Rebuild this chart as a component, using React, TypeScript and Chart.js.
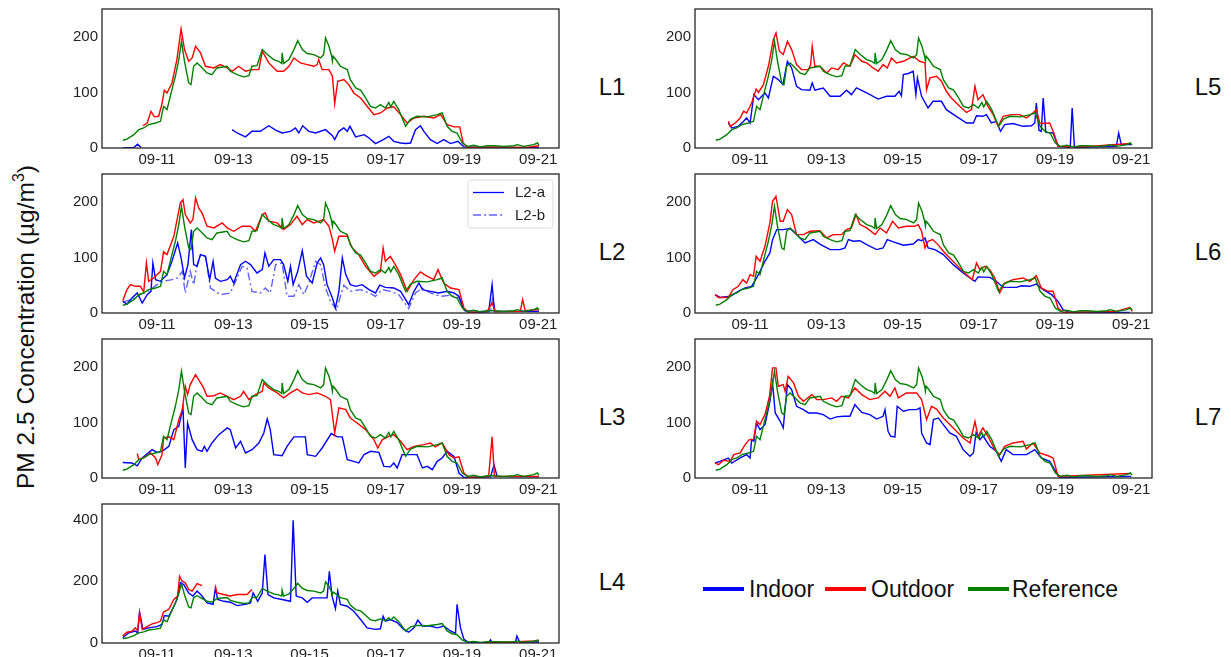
import React, { useEffect, useRef } from "react";
import { Chart, registerables } from "chart.js";
Chart.register(...registerables);

type Pt = [number, number | null];

const FONT = "'Liberation Sans', Arial, Helvetica, sans-serif";
const X_TICKS = [11, 13, 15, 17, 19, 21];
const X_TICK_LABELS = ["09-11", "09-13", "09-15", "09-17", "09-19", "09-21"];
const Y_TICKS_STD = [0, 100, 200];
const Y_TICKS_L4 = [0, 200, 400];
const PANEL_LABELS = ["L1", "L2", "L3", "L4", "L5", "L6", "L7"];
const LEGEND_LABELS = ["Indoor", "Outdoor", "Reference"];
const L2_LEGEND = ["L2-a", "L2-b"];

const REFERENCE: Pt[] = [
  [10.10,14],[10.21,16],[10.30,20],[10.39,24],[10.52,33],[10.65,36],[10.78,42],[10.96,45],[11.09,48],[11.17,75],[11.26,69],
  [11.39,105],[11.48,129],[11.57,159],[11.64,192],[11.72,156],[11.83,117],[11.89,114],[11.96,147],[12.05,153],[12.14,147],
  [12.31,135],[12.44,132],[12.57,144],[12.84,147],[12.92,138],[13.10,132],[13.27,128],[13.41,130],[13.49,147],[13.62,148],
  [13.76,177],[13.89,168],[14.06,159],[14.19,156],[14.27,152],[14.28,171],[14.32,152],[14.46,159],[14.59,177],[14.69,193],
  [14.81,177],[14.94,170],[15.11,168],[15.29,162],[15.37,168],[15.42,198],[15.51,183],[15.58,165],[15.60,156],[15.62,165],
  [15.68,160],[15.81,147],[15.99,141],[16.07,123],[16.21,108],[16.34,104],[16.47,90],[16.60,75],[16.73,72],[16.86,78],
  [16.99,72],[17.08,82],[17.13,74],[17.21,84],[17.34,69],[17.52,39],[17.65,52],[17.82,57],[18.09,56],[18.35,60],[18.48,63],
  [18.61,39],[18.74,30],[18.87,27],[19.01,9],[19.14,3],[19.31,5],[19.49,2],[19.66,4],[19.84,4],[20.10,3],[20.36,4],[20.45,6],
  [20.62,3],[20.88,6],[20.98,9],[21.02,5]
];

const L1_OUTDOOR: Pt[] = [
  [10.63,40],[10.74,45],[10.84,66],[10.93,56],[11.04,57],[11.13,80],[11.19,104],[11.26,99],[11.39,117],[11.52,159],[11.63,214],
  [11.72,177],[11.83,156],[11.92,162],[12.01,183],[12.14,171],[12.27,147],[12.49,144],[12.66,150],[12.84,144],[12.97,138],
  [13.14,147],[13.32,138],[13.49,141],[13.67,141],[13.76,174],[13.93,153],[14.15,138],[14.32,138],[14.46,147],[14.59,162],
  [14.76,153],[14.94,150],[15.11,147],[15.20,150],[15.24,159],[15.33,141],[15.51,141],[15.60,129],[15.66,80],[15.74,120],
  [15.90,123],[16.03,114],[16.16,99],[16.34,90],[16.51,75],[16.69,60],[16.86,63],[17.04,72],[17.21,74],[17.39,60],[17.56,45],
  [17.74,54],[18.00,57],[18.26,54],[18.44,60],[18.61,42],[18.79,38],[18.94,38],[19.03,9],[19.14,1],[19.84,2],[20.71,1],[21.02,4]
];
const L1_INDOOR: Pt[] = [
  [10.10,0],[10.39,1],[10.49,7],[10.58,1],[10.60,null],[12.97,33],[13.10,27],[13.32,20],[13.49,30],[13.71,30],[13.93,40],
  [14.11,32],[14.28,27],[14.50,30],[14.63,36],[14.72,27],[14.82,40],[14.98,30],[15.16,27],[15.42,33],[15.60,22],[15.66,15],
  [15.77,30],[15.90,36],[15.99,30],[16.06,39],[16.21,20],[16.43,24],[16.56,18],[16.73,8],[16.91,14],[17.08,21],[17.21,12],
  [17.39,9],[17.52,8],[17.65,9],[17.78,33],[17.91,40],[18.00,30],[18.17,15],[18.35,8],[18.52,15],[18.70,8],[18.89,12],
  [19.05,2],[19.84,0],[21.02,1]
];

const L2_OUTDOOR: Pt[] = [
  [10.10,22],[10.21,42],[10.30,51],[10.43,48],[10.56,48],[10.65,38],[10.72,90],[10.78,57],[10.91,63],[11.09,75],[11.17,110],
  [11.26,105],[11.44,138],[11.61,198],[11.68,204],[11.74,177],[11.87,162],[11.94,168],[12.01,207],[12.09,189],[12.18,180],
  [12.31,156],[12.49,153],[12.71,162],[12.84,153],[13.01,147],[13.23,156],[13.45,156],[13.58,147],[13.76,177],[13.84,180],
  [13.93,165],[14.15,162],[14.32,150],[14.50,159],[14.67,174],[14.81,159],[14.94,168],[15.11,162],[15.37,168],[15.51,156],
  [15.60,132],[15.66,111],[15.77,138],[15.99,138],[16.12,117],[16.29,105],[16.47,84],[16.69,66],[16.86,75],[16.93,117],
  [16.99,93],[17.12,102],[17.25,87],[17.39,69],[17.56,39],[17.74,60],[17.91,74],[18.09,66],[18.26,60],[18.37,78],[18.52,54],
  [18.70,45],[18.92,42],[19.05,9],[19.18,1],[19.66,3],[19.79,18],[19.87,2],[20.53,3],[20.59,24],[20.66,4],[21.02,6]
];
const L2A_INDOOR: Pt[] = [
  [10.10,21],[10.21,16],[10.34,27],[10.48,36],[10.61,18],[10.74,33],[10.84,39],[10.89,90],[10.96,60],[11.09,57],[11.26,69],
  [11.39,93],[11.54,126],[11.63,99],[11.72,63],[11.81,87],[11.90,150],[11.96,87],[12.05,84],[12.14,105],[12.27,102],
  [12.38,60],[12.47,93],[12.53,63],[12.66,57],[12.84,60],[12.92,66],[13.01,54],[13.19,87],[13.32,93],[13.45,87],[13.62,72],
  [13.76,78],[13.83,108],[13.93,84],[14.06,96],[14.24,96],[14.32,87],[14.43,57],[14.50,84],[14.57,51],[14.69,75],[14.81,112],
  [14.92,66],[15.07,54],[15.20,90],[15.29,99],[15.37,87],[15.46,51],[15.60,27],[15.68,9],[15.77,39],[15.86,99],[15.95,69],
  [16.07,51],[16.21,48],[16.38,51],[16.56,42],[16.73,36],[16.84,50],[16.99,46],[17.21,45],[17.39,39],[17.60,15],[17.74,39],
  [17.87,54],[17.96,42],[18.17,39],[18.39,36],[18.61,39],[18.79,36],[18.92,30],[19.05,6],[19.18,1],[19.70,2],[19.79,51],
  [19.85,3],[21.02,3]
];
const L2B_INDOOR: Pt[] = [
  [10.10,20],[10.34,24],[10.56,33],[10.78,40],[11.00,51],[11.17,57],[11.39,60],[11.54,63],[11.66,75],[11.74,36],[11.87,75],
  [11.96,51],[12.05,87],[12.14,105],[12.27,102],[12.40,45],[12.66,33],[12.92,36],[13.10,63],[13.23,84],[13.36,81],[13.49,39],
  [13.71,36],[13.84,45],[13.97,36],[14.11,87],[14.28,90],[14.41,30],[14.59,30],[14.72,51],[14.85,33],[14.98,54],[15.16,93],
  [15.29,87],[15.42,45],[15.55,21],[15.71,5],[15.81,30],[15.90,50],[16.07,39],[16.34,42],[16.56,36],[16.73,30],[16.91,42],
  [17.12,39],[17.34,33],[17.60,8],[17.78,36],[17.96,45],[18.17,36],[18.44,30],[18.70,32],[18.92,27],[19.07,4],[19.75,3],
  [19.81,30],[19.87,3],[21.02,3]
];

const L3_OUTDOOR: Pt[] = [
  [10.48,44],[10.52,33],[10.69,38],[10.83,45],[10.96,36],[11.02,24],[11.13,42],[11.17,72],[11.31,74],[11.44,69],[11.57,105],
  [11.66,123],[11.74,165],[11.80,150],[11.87,168],[12.01,186],[12.09,177],[12.22,162],[12.31,147],[12.49,148],[12.66,153],
  [12.84,147],[13.01,141],[13.19,147],[13.27,156],[13.41,141],[13.58,150],[13.76,156],[13.80,171],[13.93,162],[14.15,153],
  [14.32,144],[14.50,153],[14.67,160],[14.81,153],[14.98,150],[15.20,153],[15.42,147],[15.55,141],[15.66,81],[15.77,126],
  [15.95,123],[16.07,108],[16.25,99],[16.47,87],[16.69,69],[16.79,54],[16.91,69],[17.08,75],[17.21,78],[17.39,66],[17.56,51],
  [17.74,57],[18.00,60],[18.17,63],[18.30,56],[18.48,63],[18.66,42],[18.79,36],[18.92,38],[19.05,9],[19.18,1],[19.70,3],
  [19.79,74],[19.85,3],[21.02,3]
];
const L3_INDOOR: Pt[] = [
  [10.10,28],[10.34,27],[10.48,22],[10.61,36],[10.87,51],[11.00,46],[11.13,48],[11.31,57],[11.44,87],[11.57,93],[11.68,126],
  [11.74,18],[11.80,99],[11.92,69],[12.05,51],[12.18,48],[12.24,57],[12.31,48],[12.44,63],[12.62,78],[12.84,90],[12.92,87],
  [13.06,54],[13.19,66],[13.32,45],[13.49,51],[13.67,63],[13.80,81],[13.89,106],[13.97,87],[14.06,42],[14.28,40],[14.41,57],
  [14.59,74],[14.89,74],[14.94,42],[15.16,39],[15.33,54],[15.57,80],[15.73,74],[15.86,74],[15.99,33],[16.16,30],[16.29,27],
  [16.43,42],[16.60,48],[16.82,46],[16.95,21],[17.12,20],[17.21,27],[17.30,18],[17.43,42],[17.82,42],[17.96,18],[18.09,21],
  [18.22,15],[18.35,30],[18.48,36],[18.61,48],[18.79,39],[18.92,9],[19.05,1],[19.75,2],[19.84,24],[19.92,3],[21.02,2]
];

const L4_OUTDOOR: Pt[] = [
  [10.10,23],[10.21,35],[10.34,38],[10.43,49],[10.49,39],[10.54,98],[10.61,44],[10.74,53],[10.87,62],[11.00,66],[11.09,71],
  [11.17,100],[11.31,109],[11.44,141],[11.54,152],[11.59,216],[11.66,200],[11.74,195],[11.83,173],[11.92,168],[12.05,192],
  [12.18,186],[12.30,null],[12.53,184],[12.57,162],[12.75,157],[12.92,152],[13.10,157],[13.36,157],[13.49,173],[13.52,null],
  [19.60,2],[20.30,3],[20.90,7],[21.02,9]
];
const L4_INDOOR: Pt[] = [
  [10.10,17],[10.26,33],[10.43,39],[10.49,33],[10.54,100],[10.63,44],[10.78,49],[11.00,53],[11.13,60],[11.19,89],[11.31,87],
  [11.44,119],[11.52,141],[11.61,195],[11.70,189],[11.83,162],[11.94,152],[12.05,168],[12.18,152],[12.31,130],[12.47,125],
  [12.53,178],[12.59,141],[12.75,135],[12.92,132],[13.10,121],[13.32,125],[13.45,130],[13.52,162],[13.64,135],[13.76,162],
  [13.83,286],[13.91,157],[14.06,146],[14.28,141],[14.50,135],[14.57,397],[14.65,152],[14.81,146],[14.94,132],[15.07,146],
  [15.29,146],[15.46,146],[15.52,232],[15.59,152],[15.68,111],[15.74,168],[15.81,125],[15.99,119],[16.16,103],[16.34,76],
  [16.51,49],[16.73,44],[16.86,46],[16.93,87],[16.99,71],[17.12,76],[17.30,66],[17.47,44],[17.60,35],[17.74,49],[17.84,74],
  [17.96,55],[18.17,55],[18.35,49],[18.52,55],[18.70,39],[18.83,31],[18.87,125],[18.96,49],[19.05,12],[19.18,1],[19.70,1],
  [19.75,10],[19.79,1],[20.40,1],[20.44,23],[20.51,3],[21.02,3]
];

const L5_OUTDOOR: Pt[] = [
  [10.43,48],[10.48,39],[10.61,45],[10.74,54],[10.83,66],[10.91,63],[11.00,75],[11.04,81],[11.16,106],[11.22,100],[11.35,114],
  [11.48,147],[11.61,195],[11.68,207],[11.77,174],[11.87,168],[11.98,192],[12.09,177],[12.22,150],[12.35,141],[12.53,141],
  [12.59,150],[12.63,183],[12.70,147],[12.83,147],[13.01,135],[13.14,144],[13.31,141],[13.45,153],[13.62,147],[13.75,168],
  [13.93,156],[14.06,153],[14.23,144],[14.36,138],[14.49,150],[14.60,144],[14.71,162],[14.84,153],[15.02,156],[15.28,165],
  [15.45,156],[15.59,153],[15.63,105],[15.72,126],[15.89,129],[16.02,120],[16.15,102],[16.28,90],[16.50,75],[16.68,64],
  [16.81,69],[16.90,111],[16.98,87],[17.11,96],[17.24,75],[17.38,60],[17.51,39],[17.64,57],[17.86,60],[18.07,60],[18.25,54],
  [18.42,63],[18.51,69],[18.60,45],[18.73,44],[18.86,45],[18.97,27],[19.08,3],[19.73,2],[20.96,8]
];
const L5_INDOOR: Pt[] = [
  [10.43,45],[10.52,36],[10.69,39],[10.83,48],[10.91,54],[11.00,45],[11.10,96],[11.22,87],[11.39,99],[11.48,90],[11.61,129],
  [11.74,123],[11.86,114],[11.98,156],[12.09,144],[12.22,111],[12.35,105],[12.57,104],[12.63,117],[12.70,104],[12.92,108],
  [13.10,93],[13.36,93],[13.53,104],[13.66,96],[13.79,108],[14.06,99],[14.36,88],[14.58,93],[14.80,93],[14.91,102],[14.97,94],
  [15.02,132],[15.15,134],[15.28,138],[15.35,96],[15.39,126],[15.50,93],[15.67,72],[15.80,84],[16.02,84],[16.15,69],[16.41,57],
  [16.68,45],[16.86,45],[16.94,58],[17.11,57],[17.20,60],[17.33,45],[17.46,48],[17.57,30],[17.68,42],[17.90,44],[18.16,39],
  [18.38,40],[18.47,45],[18.51,81],[18.58,32],[18.64,30],[18.69,90],[18.76,28],[18.95,27],[19.08,3],[19.40,1],[19.45,72],
  [19.51,1],[20.61,3],[20.67,27],[20.74,6],[21.00,6]
];

const L6_OUTDOOR: Pt[] = [
  [10.08,33],[10.17,28],[10.43,28],[10.55,42],[10.69,48],[10.81,60],[10.91,54],[11.00,69],[11.09,66],[11.16,102],[11.26,93],
  [11.39,120],[11.52,162],[11.59,201],[11.68,210],[11.79,165],[11.87,165],[11.98,186],[12.09,177],[12.22,141],[12.40,141],
  [12.57,147],[12.83,148],[13.01,135],[13.18,141],[13.40,141],[13.53,150],[13.66,153],[13.78,177],[13.88,159],[14.06,153],
  [14.28,141],[14.41,153],[14.58,144],[14.74,165],[14.89,153],[15.10,156],[15.32,156],[15.41,159],[15.50,147],[15.59,117],
  [15.67,129],[15.79,132],[15.93,123],[16.07,111],[16.24,99],[16.41,87],[16.63,72],[16.83,60],[16.94,90],[17.03,78],
  [17.16,84],[17.29,78],[17.42,63],[17.55,36],[17.68,54],[17.90,60],[18.16,63],[18.34,57],[18.51,67],[18.64,45],[18.82,39],
  [18.95,39],[19.08,9],[19.21,1],[20.61,3],[20.96,10],[21.03,3]
];
const L6_INDOOR: Pt[] = [
  [10.08,33],[10.21,28],[10.48,30],[10.69,39],[10.87,45],[11.04,48],[11.22,69],[11.39,93],[11.52,108],[11.59,132],[11.70,150],
  [11.87,150],[12.05,152],[12.22,141],[12.44,126],[12.66,132],[12.83,124],[13.10,114],[13.36,114],[13.49,117],[13.58,132],
  [13.71,129],[13.88,130],[14.06,123],[14.32,114],[14.49,117],[14.60,132],[14.76,128],[15.02,122],[15.28,124],[15.41,132],
  [15.50,130],[15.59,135],[15.67,117],[15.85,114],[16.07,105],[16.33,87],[16.59,72],[16.77,63],[16.90,57],[16.98,65],
  [17.29,64],[17.46,57],[17.64,46],[17.99,46],[18.12,49],[18.34,48],[18.51,52],[18.69,42],[18.91,33],[19.08,21],[19.21,6],
  [19.38,1],[20.96,1]
];

const L7_OUTDOOR: Pt[] = [
  [10.08,27],[10.17,24],[10.30,32],[10.48,30],[10.57,42],[10.74,45],[10.87,60],[10.98,69],[11.09,69],[11.17,102],[11.26,96],
  [11.39,114],[11.51,147],[11.59,198],[11.68,198],[11.74,165],[11.87,168],[11.92,156],[12.00,183],[12.14,171],[12.27,147],
  [12.40,138],[12.62,150],[12.75,141],[12.92,141],[13.14,144],[13.27,138],[13.40,147],[13.58,144],[13.75,162],[13.93,150],
  [14.14,141],[14.36,144],[14.54,156],[14.67,147],[14.80,162],[14.89,144],[15.10,153],[15.37,153],[15.50,141],[15.63,105],
  [15.76,129],[15.89,124],[16.07,108],[16.33,90],[16.59,72],[16.77,63],[16.90,102],[16.98,75],[17.11,90],[17.24,75],
  [17.42,51],[17.55,42],[17.68,57],[17.90,63],[18.16,66],[18.25,52],[18.42,63],[18.60,45],[18.82,40],[18.95,36],[19.08,3],
  [20.96,8]
];
const L7_INDOOR: Pt[] = [
  [10.08,27],[10.21,30],[10.43,36],[10.52,27],[10.74,36],[10.91,42],[11.00,36],[11.04,69],[11.10,66],[11.17,99],[11.26,87],
  [11.39,96],[11.52,138],[11.59,171],[11.66,117],[11.79,102],[11.87,90],[11.98,168],[12.09,159],[12.22,129],[12.40,123],
  [12.53,117],[12.75,117],[12.92,114],[13.10,106],[13.27,110],[13.45,111],[13.62,111],[13.75,132],[13.93,118],[14.14,114],
  [14.32,106],[14.49,111],[14.54,123],[14.62,84],[14.69,75],[14.80,74],[14.86,129],[15.02,120],[15.19,123],[15.37,123],
  [15.46,126],[15.50,81],[15.63,63],[15.72,60],[15.81,105],[15.94,108],[16.07,96],[16.24,81],[16.41,75],[16.59,51],
  [16.77,39],[16.86,45],[16.93,82],[17.03,69],[17.11,76],[17.29,57],[17.46,48],[17.59,30],[17.72,51],[17.90,42],[18.25,42],
  [18.47,51],[18.64,36],[18.86,30],[18.99,15],[19.12,1],[21.00,3]
];

const BLUE = "#0000ff";
const RED = "#ff0000";
const GREEN = "#008000";
const LIGHT_BLUE = "rgba(0,0,255,0.62)";

const toXY = (arr: Pt[]) => arr.map(([x, y]) => ({ x, y }));

const framePlugin = {
  id: "frame",
  afterDatasetsDraw(chart: any) {
    const { ctx, chartArea: a } = chart;
    ctx.save();
    ctx.strokeStyle = "#262626";
    ctx.lineWidth = 1.3;
    ctx.strokeRect(a.left, a.top, a.right - a.left, a.bottom - a.top);
    ctx.restore();
  },
};

const innerLegendPlugin = {
  id: "innerLegend",
  afterDraw(chart: any) {
    const opts = chart.options.plugins.innerLegend;
    if (!opts || !opts.show) return;
    const { ctx, chartArea: a } = chart;
    ctx.save();
    const bx = a.right - 91, by = a.top + 6, bw = 85, bh = 48;
    ctx.strokeStyle = "rgba(210,210,210,0.8)";
    ctx.lineWidth = 1;
    ctx.fillStyle = "rgba(255,255,255,0.8)";
    ctx.beginPath();
    (ctx as any).roundRect ? ctx.roundRect(bx, by, bw, bh, 3) : ctx.rect(bx, by, bw, bh);
    ctx.fill();
    ctx.stroke();
    const rows = [
      { y: a.top + 18.5, color: BLUE, dash: [] as number[], text: L2_LEGEND[0] },
      { y: a.top + 41, color: LIGHT_BLUE, dash: [8, 3, 2, 3], text: L2_LEGEND[1] },
    ];
    ctx.font = `15px ${FONT}`;
    ctx.textBaseline = "middle";
    for (const r of rows) {
      ctx.strokeStyle = r.color;
      ctx.lineWidth = 1.3;
      ctx.setLineDash(r.dash);
      ctx.beginPath();
      ctx.moveTo(a.right - 86, r.y);
      ctx.lineTo(a.right - 55, r.y);
      ctx.stroke();
      ctx.setLineDash([]);
      ctx.fillStyle = "#222";
      ctx.fillText(r.text, a.right - 44, r.y + 0.5);
    }
    ctx.restore();
  },
};

const CW = 514;
const CH = 164;

function Panel(props: { left: number; top: number; datasets: any[]; yMax: number; yTicks: number[]; legend?: boolean }) {
  const ref = useRef<HTMLCanvasElement>(null);
  useEffect(() => {
    const chart = new Chart(ref.current as HTMLCanvasElement, {
      type: "line",
      data: { datasets: props.datasets },
      plugins: [framePlugin, innerLegendPlugin],
      options: {
        animation: false,
        responsive: false,
        maintainAspectRatio: false,
        layout: { padding: { top: 5, right: 5, left: 0, bottom: 0 } },
        elements: { point: { radius: 0 }, line: { tension: 0 } },
        plugins: {
          legend: { display: false },
          tooltip: { enabled: false },
          innerLegend: { show: !!props.legend },
        } as any,
        scales: {
          x: {
            type: "linear",
            min: 9.555,
            max: 21.545,
            afterBuildTicks: (s: any) => {
              s.ticks = X_TICKS.map((v) => ({ value: v }));
            },
            afterFit: (s: any) => {
              s.height = 20;
              s.paddingLeft = 0;
              s.paddingRight = 0;
              s.paddingTop = 0;
              s.paddingBottom = 0;
            },
            ticks: {
              autoSkip: false,
              maxRotation: 0,
              padding: 3,
              color: "#222",
              font: { family: FONT, size: 15 },
              callback: (v: any) => X_TICK_LABELS[X_TICKS.indexOf(Number(v))] ?? "",
            },
            grid: { display: false, drawTicks: false },
            border: { display: false },
          },
          y: {
            type: "linear",
            min: 0,
            max: props.yMax,
            afterBuildTicks: (s: any) => {
              s.ticks = props.yTicks.map((v) => ({ value: v }));
            },
            afterFit: (s: any) => {
              s.width = 52;
              s.paddingLeft = 0;
              s.paddingRight = 0;
              s.paddingTop = 0;
              s.paddingBottom = 0;
            },
            ticks: {
              padding: 4,
              color: "#222",
              font: { family: FONT, size: 15 },
              callback: (v: any) => String(v),
            },
            grid: { display: false, drawTicks: false },
            border: { display: false },
          },
        },
      } as any,
    });
    return () => chart.destroy();
  }, []);
  return (
    <canvas
      ref={ref}
      width={CW}
      height={CH}
      style={{ position: "absolute", left: props.left, top: props.top, width: CW, height: CH }}
    />
  );
}

const line = (data: Pt[], color: string, extra: any = {}) => ({
  data: toXY(data),
  borderColor: color,
  borderWidth: 1.4,
  pointRadius: 0,
  fill: false,
  spanGaps: false,
  ...extra,
});

const std = (outdoor: Pt[], indoor: Pt[]) => [
  line(REFERENCE, GREEN),
  line(outdoor, RED),
  line(indoor, BLUE),
];

const LEFT_X = 50;
const RIGHT_X = 643;
const TOPS = [9, 174, 339, 504];

export default function App() {
  const panels = [
    { left: LEFT_X, top: TOPS[0], ds: std(L1_OUTDOOR, L1_INDOOR), yMax: 250, yTicks: Y_TICKS_STD },
    {
      left: LEFT_X,
      top: TOPS[1],
      ds: [
        line(REFERENCE, GREEN),
        line(L2_OUTDOOR, RED),
        line(L2A_INDOOR, BLUE),
        line(L2B_INDOOR, LIGHT_BLUE, { borderDash: [8, 3, 2, 3] }),
      ],
      yMax: 250,
      yTicks: Y_TICKS_STD,
      legend: true,
    },
    { left: LEFT_X, top: TOPS[2], ds: std(L3_OUTDOOR, L3_INDOOR), yMax: 250, yTicks: Y_TICKS_STD },
    { left: LEFT_X, top: TOPS[3], ds: std(L4_OUTDOOR, L4_INDOOR), yMax: 450, yTicks: Y_TICKS_L4 },
    { left: RIGHT_X, top: TOPS[0], ds: std(L5_OUTDOOR, L5_INDOOR), yMax: 250, yTicks: Y_TICKS_STD },
    { left: RIGHT_X, top: TOPS[1], ds: std(L6_OUTDOOR, L6_INDOOR), yMax: 250, yTicks: Y_TICKS_STD },
    { left: RIGHT_X, top: TOPS[2], ds: std(L7_OUTDOOR, L7_INDOOR), yMax: 250, yTicks: Y_TICKS_STD },
  ];
  const labelPos = [
    [612, TOPS[0]], [612, TOPS[1]], [612, TOPS[2]], [612, TOPS[3]],
    [1208, TOPS[0]], [1208, TOPS[1]], [1208, TOPS[2]],
  ];
  const legendItems = [
    { color: BLUE, lineX: 703, textX: 749 },
    { color: RED, lineX: 825, textX: 871 },
    { color: GREEN, lineX: 968, textX: 1012 },
  ];
  return (
    <div
      style={{
        position: "fixed",
        left: 0,
        top: 0,
        width: 1231,
        height: 657,
        overflow: "hidden",
        background: "#fff",
        fontFamily: FONT,
        color: "#111",
      }}
    >
      {panels.map((p, i) => (
        <Panel
          key={i}
          left={p.left}
          top={p.top - 5}
          datasets={p.ds}
          yMax={p.yMax}
          yTicks={p.yTicks}
          legend={(p as any).legend}
        />
      ))}
      {PANEL_LABELS.map((t, i) => (
        <div
          key={t}
          style={{
            position: "absolute",
            left: labelPos[i][0] - 30,
            top: labelPos[i][1] + 78 - 15,
            width: 60,
            height: 30,
            lineHeight: "30px",
            textAlign: "center",
            fontSize: 24,
          }}
        >
          {t}
        </div>
      ))}
      <div
        style={{
          position: "absolute",
          left: 26 - 220,
          top: 327 - 16,
          width: 440,
          height: 32,
          lineHeight: "32px",
          textAlign: "center",
          fontSize: 24.5,
          transform: "rotate(-90deg)",
          whiteSpace: "nowrap",
        }}
      >
        PM 2.5 Concentration (µg/m<sup style={{ fontSize: "0.65em", verticalAlign: "0.6em", lineHeight: 0 }}>3</sup>)
      </div>
      {legendItems.map((it, i) => (
        <React.Fragment key={i}>
          <div
            style={{
              position: "absolute",
              left: it.lineX,
              top: 586.5,
              width: 41,
              height: 4,
              background: it.color,
            }}
          />
          <div
            style={{
              position: "absolute",
              left: it.textX,
              top: 576,
              height: 26,
              lineHeight: "26px",
              fontSize: 23,
              whiteSpace: "nowrap",
            }}
          >
            {LEGEND_LABELS[i]}
          </div>
        </React.Fragment>
      ))}
    </div>
  );
}
